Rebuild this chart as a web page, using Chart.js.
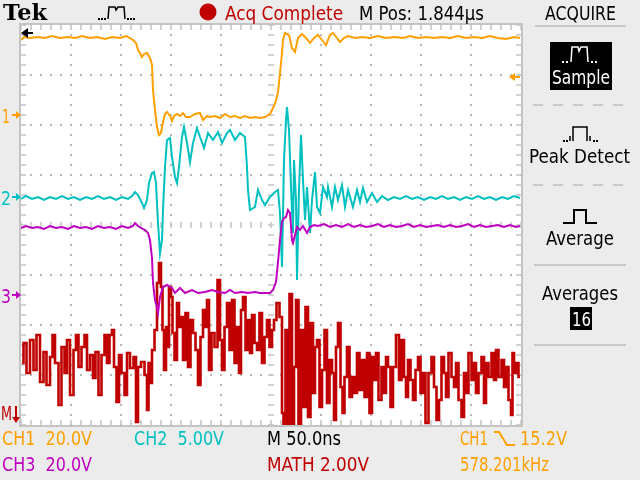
<!DOCTYPE html>
<html>
<head>
<meta charset="utf-8">
<script src="https://cdn.jsdelivr.net/npm/chart.js@4.4.1/dist/chart.umd.min.js"></script>
<style>
  html, body { margin: 0; padding: 0; background: #ececec; }
  #scope { position: relative; width: 640px; height: 480px; overflow: hidden; }
  #scope canvas { position: absolute; left: 0; top: 0; }
  .lbl {
    position: absolute; white-space: pre; transform-origin: 0 0;
    font-family: "DejaVu Sans Condensed", "DejaVu Sans", sans-serif;
    font-size: 20px; line-height: 20px;
  }
</style>
</head>
<body>
<div id="scope">
  <canvas id="pantalla" width="640" height="480"></canvas>
</div>
<script>
// tiempo en ns (50 ns/div, 10 div), amplitud en divisiones de pantalla (-4..4)
const tiempoCh1 = [0,3,9,17,24,31,39,47,54,61,69,76,84,91,99,105,109,112,115,117,119,121,123,126,129,131,132,134,136,138,140,142,144,146,149,151,153,156,159,162,165,169,174,179,182,186,189,194,199,204,209,214,219,224,229,234,239,244,249,252,255,257,259,261,262,264,268,271,274,277,281,285,289,293,297,301,305,309,312,316,319,323,327,334,341,349,357,365,374,382,389,397,405,413,421,429,437,445,453,461,469,477,485,493,499];
const ch1 = [3.70,3.76,3.74,3.76,3.74,3.78,3.74,3.76,3.74,3.78,3.74,3.76,3.72,3.76,3.74,3.78,3.74,3.70,3.64,3.50,3.44,3.36,3.42,3.44,3.34,3.20,2.70,2.30,1.96,1.80,1.84,2.06,2.22,2.26,2.18,2.08,2.18,2.22,2.18,2.24,2.16,2.16,2.22,2.24,2.10,2.18,2.16,2.18,2.14,2.22,2.16,2.18,2.14,2.18,2.14,2.16,2.14,2.16,2.22,2.34,2.48,2.66,3.04,3.44,3.70,3.84,3.80,3.54,3.46,3.74,3.82,3.74,3.64,3.74,3.80,3.70,3.60,3.80,3.84,3.74,3.66,3.74,3.78,3.74,3.76,3.74,3.78,3.74,3.76,3.74,3.78,3.74,3.76,3.74,3.76,3.74,3.78,3.74,3.76,3.74,3.78,3.74,3.72,3.76,3.74];

const tiempoCh2 = [0,5,11,17,23,29,35,41,47,53,59,65,71,77,83,89,95,101,107,111,114,117,121,123,126,128,131,133,135,137,139,141,142,144,146,149,151,154,156,158,161,163,166,169,172,176,179,183,187,192,197,201,206,209,214,219,224,226,227,229,234,237,241,244,249,254,257,259,261,263,265,266,268,270,272,273,275,276,278,280,282,284,286,289,291,294,296,299,302,306,307,311,314,317,321,324,327,332,336,339,342,346,351,356,361,367,373,379,385,391,397,403,409,415,421,427,433,439,445,451,457,463,469,475,481,487,493,499];
const ch2 = [0.52,0.58,0.52,0.56,0.50,0.56,0.52,0.58,0.52,0.56,0.50,0.56,0.52,0.58,0.52,0.56,0.50,0.56,0.52,0.58,0.66,0.60,0.44,0.34,0.50,0.84,1.04,1.06,0.84,0.04,-0.56,-0.30,0.30,1.16,1.70,1.74,1.36,0.96,0.84,1.16,1.76,1.96,1.64,1.26,1.64,1.94,1.76,1.54,1.84,1.70,1.86,1.64,1.84,1.90,1.70,1.84,1.76,1.16,0.70,0.30,0.36,0.70,0.50,0.40,0.56,0.66,0.70,0.24,-0.84,1.30,2.10,2.36,1.90,0.76,-0.16,1.30,0.50,-1.10,0.70,1.80,0.90,0.10,0.76,-0.16,0.50,1.06,0.36,0.24,0.76,0.56,0.76,0.36,0.76,0.50,0.80,0.36,0.70,0.36,0.70,0.46,0.74,0.46,0.64,0.46,0.58,0.50,0.56,0.52,0.58,0.52,0.56,0.50,0.56,0.52,0.58,0.52,0.56,0.50,0.56,0.52,0.58,0.52,0.56,0.50,0.56,0.52,0.58,0.54];

const tiempoCh3 = [0,5,11,17,23,29,35,41,47,53,59,65,71,77,83,89,95,101,107,112,114,117,120,124,127,129,131,132,134,136,137,139,142,146,151,154,159,164,171,177,184,191,197,204,209,214,221,227,234,239,244,249,252,255,257,259,261,263,265,267,269,271,272,274,276,279,282,286,289,293,297,303,309,315,321,327,333,339,345,351,357,363,369,375,381,387,393,399,405,411,417,423,429,435,441,447,453,459,465,471,477,483,489,495,499];
const ch3 = [-0.06,-0.02,-0.06,-0.04,-0.08,-0.02,-0.06,-0.04,-0.08,-0.02,-0.06,-0.04,-0.08,-0.02,-0.06,-0.04,-0.08,-0.02,-0.06,-0.02,0.04,-0.02,-0.06,-0.10,-0.16,-0.30,-0.66,-1.16,-1.50,-1.64,-1.76,-1.44,-1.24,-1.20,-1.26,-1.36,-1.26,-1.36,-1.30,-1.36,-1.34,-1.30,-1.34,-1.36,-1.30,-1.36,-1.34,-1.36,-1.34,-1.36,-1.36,-1.36,-1.30,-1.14,-0.74,-0.30,0.06,0.14,0.16,0.30,0.24,-0.30,-0.36,-0.20,-0.04,-0.10,-0.02,-0.16,-0.04,0.00,-0.02,0.02,-0.04,0.00,-0.04,0.02,-0.04,0.00,-0.04,-0.02,0.02,-0.04,0.00,-0.04,-0.02,0.02,-0.04,0.00,-0.04,-0.02,0.00,-0.04,0.00,-0.04,-0.02,0.02,-0.04,0.00,-0.04,-0.02,0.00,-0.04,0.00,-0.04,-0.02];

const tiempoMath = [1,4,7,11,14,17,21,24,27,31,32,36,39,42,45,47,51,54,56,59,62,65,67,71,73,76,79,82,85,87,90,92,94,97,99,102,105,107,111,114,116,118,122,125,127,
  128,130,132,135,137,139,141,142,144,146,147,149,151,152,155,157,159,161,163,166,168,171,173,176,178,181,183,185,187,189,192,195,198,200,202,205,207,210,212,215,217,219,221,223,226,228,230,232,235,237,240,242,245,247,250,252,
  254,257,260,262,263,266,267,270,272,274,276,279,281,283,286,288,291,293,295,297,300,302,305,307,310,312,314,316,318,321,322,325,327,330,332,335,337,340,342,345,347,350,352,354,356,359,362,364,366,368,371,373,377,379,382,384,386,388,391,393,396,398,401,403,406,409,412,414,417,419,422,424,426,429,432,434,436,439,442,444,446,449,452,454,456,459,462,464,466,469,472,474,476,479,482,484,486,489,491,492,494,496,499];
const math = [-2.76,-2.36,-2.96,-2.30,-2.90,-2.20,-3.14,-2.54,-3.20,-2.64,-2.20,-2.76,-3.60,-2.44,-2.96,-2.30,-3.40,-2.50,-2.20,-2.84,-2.44,-2.20,-2.90,-2.60,-3.06,-2.54,-3.40,-2.60,-2.20,-2.76,-2.20,-2.10,-2.84,-3.54,-2.60,-2.96,-3.40,-2.56,-2.86,-2.64,-3.94,-2.84,-2.74,-3.00,-3.70,
  -2.76,-3.16,-2.50,-2.10,-1.16,-0.76,-1.24,-2.10,-2.90,-2.04,-2.44,-1.24,-1.44,-2.16,-2.70,-1.56,-2.04,-1.84,-2.70,-1.76,-2.84,-1.90,-2.16,-2.50,-3.20,-2.24,-1.70,-2.04,-1.50,-2.90,-2.16,-2.44,-1.10,-2.30,-2.90,-2.04,-1.56,-2.50,-1.50,-2.76,-2.04,-2.96,-1.70,-1.44,-2.50,-1.90,-2.56,-1.80,-2.36,-2.50,-1.76,-2.76,-2.24,-1.90,-2.44,-2.10,
  -1.90,-1.56,-1.84,-3.76,-3.98,-2.10,-3.98,-1.38,-3.98,-2.84,-1.50,-3.98,-2.10,-3.64,-1.64,-3.84,-1.96,-3.36,-2.44,-2.30,-3.64,-2.90,-2.10,-3.56,-2.70,-2.96,-3.90,-2.44,-1.96,-3.24,-3.76,-3.04,-2.44,-3.44,-3.04,-3.36,-2.56,-3.30,-2.70,-3.44,-2.56,-3.76,-2.64,-3.10,-2.56,-3.50,-2.84,-3.36,-2.64,-2.84,-3.64,-2.84,-2.20,-3.10,-2.30,-3.04,-3.44,-2.70,-3.10,-3.50,-2.90,-2.64,-3.36,-2.96,-3.96,-2.96,-2.64,-3.24,-3.90,-3.50,-2.64,-2.96,-3.44,-2.56,-3.04,-3.24,-2.76,-3.50,-3.84,-2.96,-3.36,-2.56,-3.10,-2.76,-3.36,-2.96,-2.64,-3.56,-2.76,-3.04,-2.56,-3.10,-2.50,-3.04,-2.70,-3.24,-2.84,-3.50,-3.80,-2.56,-2.96,-2.76,-3.04];

const NARANJA = '#ffa000', CIAN = '#00c0c0', MAGENTA = '#c000c0', ROJO = '#c00000';

function serie(t, v) { return t.map((x, i) => ({ x, y: v[i] })); }

const scope = document.getElementById('scope');

function ponerTexto(txt, x, y, ancho, color, extra) {
  const s = document.createElement('span');
  s.className = 'lbl';
  s.textContent = txt;
  s.style.left = x + 'px';
  s.style.top = y + 'px';
  s.style.color = color || '#000';
  if (extra) Object.assign(s.style, extra);
  scope.appendChild(s);
  const w = s.getBoundingClientRect().width;
  if (ancho && w) s.style.transform = 'scaleX(' + (ancho / w).toFixed(3) + ')';
}

function linea(ctx, pts, color, ancho) {
  ctx.strokeStyle = color;
  ctx.lineWidth = ancho || 2;
  ctx.beginPath();
  pts.forEach((p, i) => i ? ctx.lineTo(p[0], p[1]) : ctx.moveTo(p[0], p[1]));
  ctx.stroke();
}

function puntos(ctx, xs, y, color) {
  ctx.fillStyle = color;
  xs.forEach(x => ctx.fillRect(x - 1, y - 1, 2, 2));
}

// reticula del osciloscopio
const reticula = {
  id: 'reticula',
  beforeDatasetsDraw(chart) {
    const { ctx, chartArea: a, scales: { x, y } } = chart;
    ctx.save();
    ctx.fillStyle = '#ffffff';
    ctx.fillRect(a.left, a.top, a.right - a.left, a.bottom - a.top);

    const menorX = [], menorY = [];
    for (let t = 0; t <= 500; t += 10) menorX.push(Math.round(x.getPixelForValue(t)));
    for (let d = -4; d <= 4.001; d += 0.2) menorY.push(Math.round(y.getPixelForValue(d)));
    const cx = Math.round(x.getPixelForValue(250)), cy = Math.round(y.getPixelForValue(0));

    ctx.fillStyle = '#b8b8b8';
    for (let k = 1; k < 10; k++) {
      if (k === 5) continue;
      const px = Math.round(x.getPixelForValue(k * 50));
      menorY.forEach(py => ctx.fillRect(px - 1, py - 1, 2, 2));
    }
    for (let k = -3; k <= 3; k++) {
      if (k === 0) continue;
      const py = Math.round(y.getPixelForValue(k));
      menorX.forEach(px => ctx.fillRect(px - 1, py - 1, 2, 2));
    }

    ctx.strokeStyle = '#c4c4c4';
    ctx.lineWidth = 1.5;
    ctx.beginPath();
    menorX.forEach(px => {
      ctx.moveTo(px, a.top); ctx.lineTo(px, a.top + 5);
      ctx.moveTo(px, a.bottom); ctx.lineTo(px, a.bottom - 5);
      ctx.moveTo(px, cy - 3); ctx.lineTo(px, cy + 3);
    });
    menorY.forEach(py => {
      ctx.moveTo(a.left, py); ctx.lineTo(a.left + 5, py);
      ctx.moveTo(a.right, py); ctx.lineTo(a.right - 5, py);
      ctx.moveTo(cx - 3, py); ctx.lineTo(cx + 3, py);
    });
    ctx.stroke();
    ctx.lineWidth = 2;
    ctx.strokeRect(a.left - 1, a.top - 1, a.right - a.left + 2, a.bottom - a.top + 2);
    ctx.restore();
  },
  afterDraw(chart) {
    const { ctx, scales: { y } } = chart;
    ctx.save();
    // marcadores de nivel de tierra
    const flecha = (py, color) => {
      py = Math.round(py);
      linea(ctx, [[12, py], [17, py]], color, 2);
      ctx.fillStyle = color;
      ctx.beginPath(); ctx.moveTo(21, py); ctx.lineTo(16, py - 4); ctx.lineTo(16, py + 4); ctx.closePath(); ctx.fill();
    };
    flecha(y.getPixelForValue(2.2), NARANJA);
    flecha(y.getPixelForValue(0.56), CIAN);
    flecha(y.getPixelForValue(-1.4), MAGENTA);
    // M con flecha hacia abajo
    linea(ctx, [[16, 406], [16, 418]], ROJO, 2);
    ctx.fillStyle = ROJO;
    ctx.beginPath(); ctx.moveTo(16, 423); ctx.lineTo(12, 417); ctx.lineTo(20, 417); ctx.closePath(); ctx.fill();
    // posicion de disparo (arriba izquierda)
    ctx.fillStyle = '#000';
    ctx.beginPath(); ctx.moveTo(21, 33); ctx.lineTo(28, 28); ctx.lineTo(28, 38); ctx.closePath(); ctx.fill();
    linea(ctx, [[27, 33], [33, 33]], '#000', 2);
    // nivel de disparo (derecha)
    const ny = Math.round(y.getPixelForValue(2.96));
    ctx.fillStyle = NARANJA;
    ctx.beginPath(); ctx.moveTo(509, ny); ctx.lineTo(515, ny - 4); ctx.lineTo(515, ny + 4); ctx.closePath(); ctx.fill();
    linea(ctx, [[514, ny], [520, ny]], NARANJA, 2);

    // barra superior
    puntos(ctx, [99, 102, 105], 19, '#000');
    linea(ctx, [[108, 19], [109, 7], [115, 7], [116, 10], [118, 7], [124, 7], [125, 19]], '#000', 1.5);
    puntos(ctx, [128, 131, 134], 19, '#000');
    ctx.fillStyle = ROJO;
    ctx.beginPath(); ctx.arc(208, 12, 8.5, 0, Math.PI * 2); ctx.fill();
    linea(ctx, [[535, 26], [626, 26]], '#c8c8c8', 2);

    // panel derecho
    ctx.fillStyle = '#000';
    ctx.fillRect(550, 42, 62, 48);
    puntos(ctx, [563, 567], 62, '#fff');
    linea(ctx, [[571, 62], [572, 47], [578, 47], [579, 51], [581, 47], [587, 47], [588, 62]], '#fff', 1.5);
    puntos(ctx, [592, 596], 62, '#fff');
    ctx.setLineDash([10, 10]);
    linea(ctx, [[533, 105], [628, 105]], '#c8c8c8', 2);
    linea(ctx, [[533, 185], [628, 185]], '#c8c8c8', 2);
    ctx.setLineDash([]);
    puntos(ctx, [564, 567], 141, '#000');
    linea(ctx, [[570, 141], [570, 136]], '#000', 1.5);
    linea(ctx, [[573, 141], [573, 127], [587, 127], [587, 141]], '#000', 1.5);
    linea(ctx, [[590, 141], [590, 136]], '#000', 1.5);
    puntos(ctx, [594, 597], 141, '#000');
    linea(ctx, [[563, 223], [574, 223], [574, 210], [586, 210], [586, 223], [597, 223]], '#000', 2);
    linea(ctx, [[534, 265], [626, 265]], '#c8c8c8', 2);
    ctx.fillRect(570, 307, 22, 23);
    linea(ctx, [[534, 345], [626, 345]], '#c8c8c8', 2);

    // simbolo de flanco descendente
    linea(ctx, [[494, 432], [499, 432], [507, 445], [515, 445]], NARANJA, 2);
    ctx.restore();
  }
};

new Chart(document.getElementById('pantalla'), {
  type: 'line',
  data: {
    datasets: [
      { label: 'CH1', data: serie(tiempoCh1, ch1), borderColor: NARANJA, order: 0 },
      { label: 'CH3', data: serie(tiempoCh3, ch3), borderColor: MAGENTA, order: 1 },
      { label: 'CH2', data: serie(tiempoCh2, ch2), borderColor: CIAN, order: 2 },
      { label: 'MATH', data: serie(tiempoMath, math), borderColor: ROJO, borderWidth: 2.6, stepped: 'middle', order: 3 }
    ]
  },
  options: {
    responsive: false,
    animation: false,
    layout: { padding: { left: 21, right: 119, top: 25, bottom: 55 } },
    elements: { point: { radius: 0 }, line: { borderWidth: 2, tension: 0 } },
    scales: {
      x: { type: 'linear', min: 0, max: 500, display: false },
      y: { type: 'linear', min: -4, max: 4, display: false }
    },
    plugins: { legend: { display: false }, tooltip: { enabled: false } }
  },
  plugins: [reticula]
});

// textos de pantalla
ponerTexto('Tek', 3, 1, 44, '#000', { fontFamily: '"DejaVu Serif", serif', fontWeight: 'bold', fontSize: '22px', lineHeight: '22px' });
ponerTexto('Acq Complete', 225, 3, 118, ROJO);
ponerTexto('M Pos: 1.844\u00b5s', 359, 3, 125);
ponerTexto('ACQUIRE', 545, 3, 71);
ponerTexto('Sample', 552, 67, 58, '#fff');
ponerTexto('Peak Detect', 529, 146, 101);
ponerTexto('Average', 546, 228, 68);
ponerTexto('Averages', 542, 283, 76);
ponerTexto('16', 572, 309, 19, '#fff');
ponerTexto('1', 2, 106, 8, NARANJA);
ponerTexto('2', 1, 188, 10, CIAN);
ponerTexto('3', 1, 286, 10, MAGENTA);
ponerTexto('M', 1, 403, 11, ROJO);
ponerTexto('CH1  20.0V', 2, 428, 90, NARANJA);
ponerTexto('CH2  5.00V', 134, 428, 90, CIAN);
ponerTexto('M 50.0ns', 267, 428, 74);
ponerTexto('CH1', 460, 428, 28, NARANJA);
ponerTexto('15.2V', 520, 428, 47, NARANJA);
ponerTexto('CH3  20.0V', 2, 454, 90, MAGENTA);
ponerTexto('MATH 2.00V', 267, 454, 102, ROJO);
ponerTexto('578.201kHz', 460, 454, 89, NARANJA);
</script>
</body>
</html>
